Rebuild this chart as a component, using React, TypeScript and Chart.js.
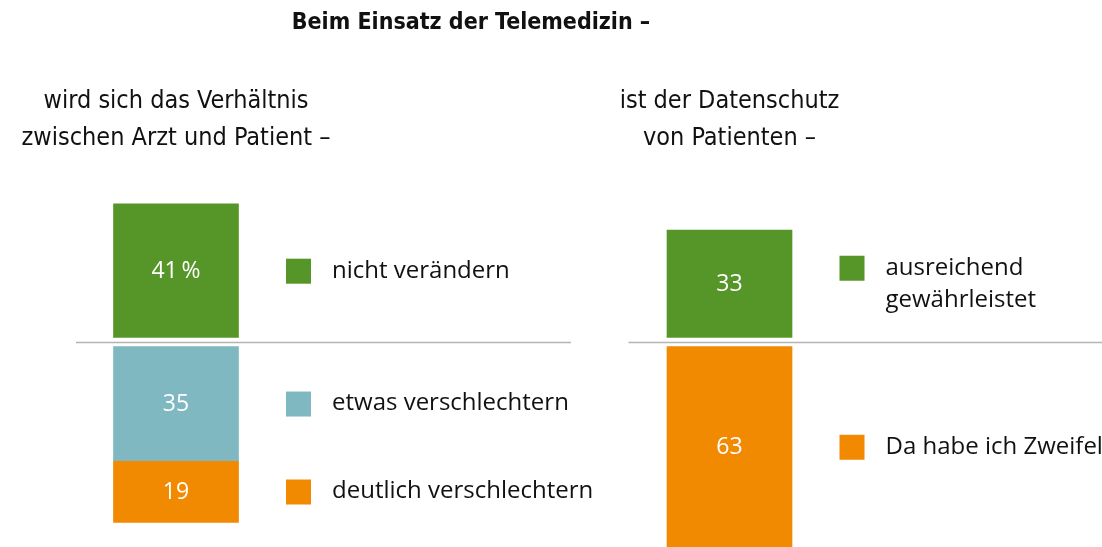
import React, { useEffect, useRef } from 'react';
import { Chart, registerables } from 'chart.js';

Chart.register(...registerables);

// ---- Data ----
const categories = ['Verhältnis Arzt–Patient', 'Datenschutz von Patienten'];
const mainTitle = 'Beim Einsatz der Telemedizin –';
const subtitles = [
  ['wird sich das Verhältnis', 'zwischen Arzt und Patient –'],
  ['ist der Datenschutz', 'von Patienten –'],
];

const seriesLabels = [
  ['nicht verändern'],
  ['etwas verschlechtern'],
  ['deutlich verschlechtern'],
  ['ausreichend', 'gewährleistet'],
  ['Da habe ich Zweifel'],
];
// positive values sit above the baseline, negative values below it
const nichtVeraendern = [41, null];
const etwasVerschlechtern = [-35, null];
const deutlichVerschlechtern = [-19, null];
const ausreichendGewaehrleistet = [null, 33];
const zweifel = [null, -63];
const valueSuffix = ['\u2009%', '', '', '', ''];

const GREEN = '#569629';
const BLUE = '#80b8c1';
const ORANGE = '#f18a00';

const LABEL_FONT = '"Open Sans", "Noto Sans", sans-serif';
const TITLE_FONT = '"DejaVu Sans Condensed", "DejaVu Sans", sans-serif';

const overlayPlugin = {
  id: 'overlay',
  afterDatasetsDraw(chart: any) {
    const ctx = chart.ctx as CanvasRenderingContext2D;
    ctx.save();

    // baseline segments
    const yPos = chart.scales.yPos.getPixelForValue(0);
    const yNeg = chart.scales.yNeg.getPixelForValue(0);
    const baseY = Math.round((yPos + yNeg) / 2) + 0.5;
    ctx.strokeStyle = '#b4b4b4';
    ctx.lineWidth = 1.5;
    const xs = chart.scales.x;
    const c0 = xs.getPixelForValue(0);
    const c1 = xs.getPixelForValue(1);
    ctx.beginPath();
    ctx.moveTo(c0 - 100, baseY);
    ctx.lineTo(c0 + 395, baseY);
    ctx.moveTo(c1 - 101, baseY);
    ctx.lineTo(chart.width, baseY);
    ctx.stroke();

    // value labels and legends
    chart.data.datasets.forEach((ds: any, i: number) => {
      const meta = chart.getDatasetMeta(i);
      meta.data.forEach((el: any, j: number) => {
        const v = ds.data[j];
        if (v === null || v === undefined) return;
        const bottom = Math.min(Math.max(el.y, el.base), chart.height);
        const top = Math.min(el.y, el.base);
        const cy = (top + bottom) / 2;
        ctx.fillStyle = '#ffffff';
        ctx.font = `23px ${LABEL_FONT}`;
        ctx.textAlign = 'center';
        ctx.textBaseline = 'middle';
        ctx.fillText(`${Math.abs(v)}${valueSuffix[i]}`, el.x, cy + 1);

        // legend entry
        const lines = seriesLabels[i];
        const lh = 32;
        const y0 = cy - ((lines.length - 1) * lh) / 2;
        const sqX = el.x + 110;
        ctx.fillStyle = ds.backgroundColor;
        ctx.fillRect(sqX, y0 - 12 - (lines.length > 1 ? 0 : 0), 25, 25);
        ctx.fillStyle = '#111111';
        ctx.font = `24px ${LABEL_FONT}`;
        ctx.textAlign = 'left';
        ctx.textBaseline = 'middle';
        lines.forEach((ln, k) => {
          ctx.fillText(ln, sqX + 46, y0 + k * lh);
        });
      });
    });

    // titles
    ctx.fillStyle = '#111111';
    ctx.textAlign = 'center';
    ctx.textBaseline = 'middle';
    ctx.font = `bold 23px ${TITLE_FONT}`;
    ctx.fillText(mainTitle, 471, 23);
    ctx.font = `25px ${TITLE_FONT}`;
    subtitles.forEach((lines, j) => {
      const cx = xs.getPixelForValue(j);
      lines.forEach((ln, k) => ctx.fillText(ln, cx, 101 + k * 37));
    });

    ctx.restore();
  },
};

export default function App() {
  const ref = useRef<HTMLCanvasElement | null>(null);
  useEffect(() => {
    if (!ref.current) return;
    const common = { barThickness: 125, clip: false as any, borderWidth: 0 };
    const chart = new Chart(ref.current, {
      type: 'bar',
      data: {
        labels: categories,
        datasets: [
          { label: seriesLabels[0].join(' '), data: nichtVeraendern, backgroundColor: GREEN, yAxisID: 'yPos', ...common },
          { label: seriesLabels[1].join(' '), data: etwasVerschlechtern, backgroundColor: BLUE, yAxisID: 'yNeg', ...common },
          { label: seriesLabels[2].join(' '), data: deutlichVerschlechtern, backgroundColor: ORANGE, yAxisID: 'yNeg', ...common },
          { label: seriesLabels[3].join(' '), data: ausreichendGewaehrleistet, backgroundColor: GREEN, yAxisID: 'yPos', ...common },
          { label: seriesLabels[4].join(' '), data: zweifel, backgroundColor: ORANGE, yAxisID: 'yNeg', ...common },
        ] as any,
      },
      options: {
        responsive: false,
        animation: false,
        layout: { padding: { left: 176, right: 372.5, top: 142, bottom: 0 } },
        plugins: { legend: { display: false }, title: { display: false }, tooltip: { enabled: false } },
        scales: {
          x: { type: 'category', offset: false, stacked: true, display: false },
          yPos: { type: 'linear', stacked: true, display: false, min: -64.3, max: 60 },
          yNeg: { type: 'linear', stacked: true, display: false, min: -61.53, max: 62.77 },
        },
      } as any,
      plugins: [overlayPlugin],
    });
    return () => chart.destroy();
  }, []);
  return (
    <canvas
      ref={ref}
      width={1102}
      height={547}
      style={{ position: 'absolute', left: 0, top: 0, width: 1102, height: 547 }}
    />
  );
}
